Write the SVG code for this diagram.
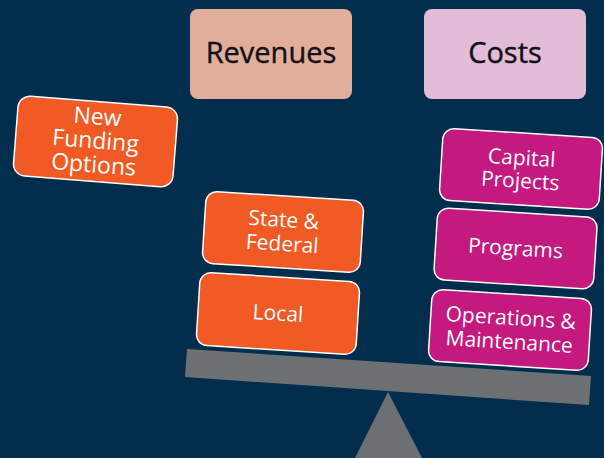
<svg xmlns="http://www.w3.org/2000/svg" width="604" height="458" viewBox="0 0 604 458">
<style>
.bg{fill:#022d4d}
.hdr{font-family:"Open Sans","Liberation Sans",sans-serif;font-size:29px;fill:#141018;stroke:#141018;stroke-width:0.4;text-anchor:middle}
.rev{fill:#e1ae9b}
.cost{fill:#e2bcd9}
.or{fill:#f15a24;stroke:#ffffff;stroke-width:1.5}
.mg{fill:#c4197f;stroke:#ffffff;stroke-width:1.5}
.lbl{font-family:"Open Sans","Liberation Sans",sans-serif;font-size:21px;fill:#ffffff;text-anchor:middle}
.big{font-size:23px}
.gray{fill:#6d7073}
</style>
<rect class="bg" x="0" y="0" width="604" height="458"/>
<g id="scale">
<polygon class="gray" points="187,349 591,376 589,405 185,377"/>
<polygon class="gray" points="388,392 422,458 355,458"/>
</g>
<g id="revenues">
<rect class="rev" x="190" y="9" width="162" height="90" rx="8"/>
<text class="hdr" x="271" y="63">Revenues</text>
</g>
<g id="costs">
<rect class="cost" x="424" y="9" width="162" height="90" rx="8"/>
<text class="hdr" x="505" y="63">Costs</text>
</g>
<g id="new-funding" transform="translate(95.5,141.5) rotate(4.5)">
<rect class="or" x="-80" y="-40" width="160" height="80" rx="12"/>
<text class="lbl big" x="0" y="-17">New</text>
<text class="lbl big" x="0" y="7">Funding</text>
<text class="lbl big" x="0" y="31">Options</text>
</g>
<g id="state-federal" transform="translate(283,232) rotate(3.6)">
<rect class="or" x="-79" y="-36" width="158" height="72" rx="11"/>
<text class="lbl" x="0" y="-5">State &amp;</text>
<text class="lbl" x="0" y="19">Federal</text>
</g>
<g id="local" transform="translate(278,313.5) rotate(3.6)">
<rect class="or" x="-80" y="-36.5" width="160" height="73" rx="11"/>
<text class="lbl" x="0" y="7">Local</text>
</g>
<g id="capital-projects" transform="translate(521,169) rotate(3.6)">
<rect class="mg" x="-80" y="-36" width="160" height="72" rx="11"/>
<text class="lbl" x="0" y="-4">Capital</text>
<text class="lbl" x="0" y="19">Projects</text>
</g>
<g id="programs" transform="translate(515.5,248.5) rotate(3.6)">
<rect class="mg" x="-80" y="-36" width="160" height="72" rx="11"/>
<text class="lbl" x="0" y="7">Programs</text>
</g>
<g id="operations" transform="translate(510,330) rotate(3.6)">
<rect class="mg" x="-80" y="-36" width="160" height="72" rx="11"/>
<text class="lbl" x="0" y="-5">Operations &amp;</text>
<text class="lbl" x="0" y="19">Maintenance</text>
</g>
</svg>
